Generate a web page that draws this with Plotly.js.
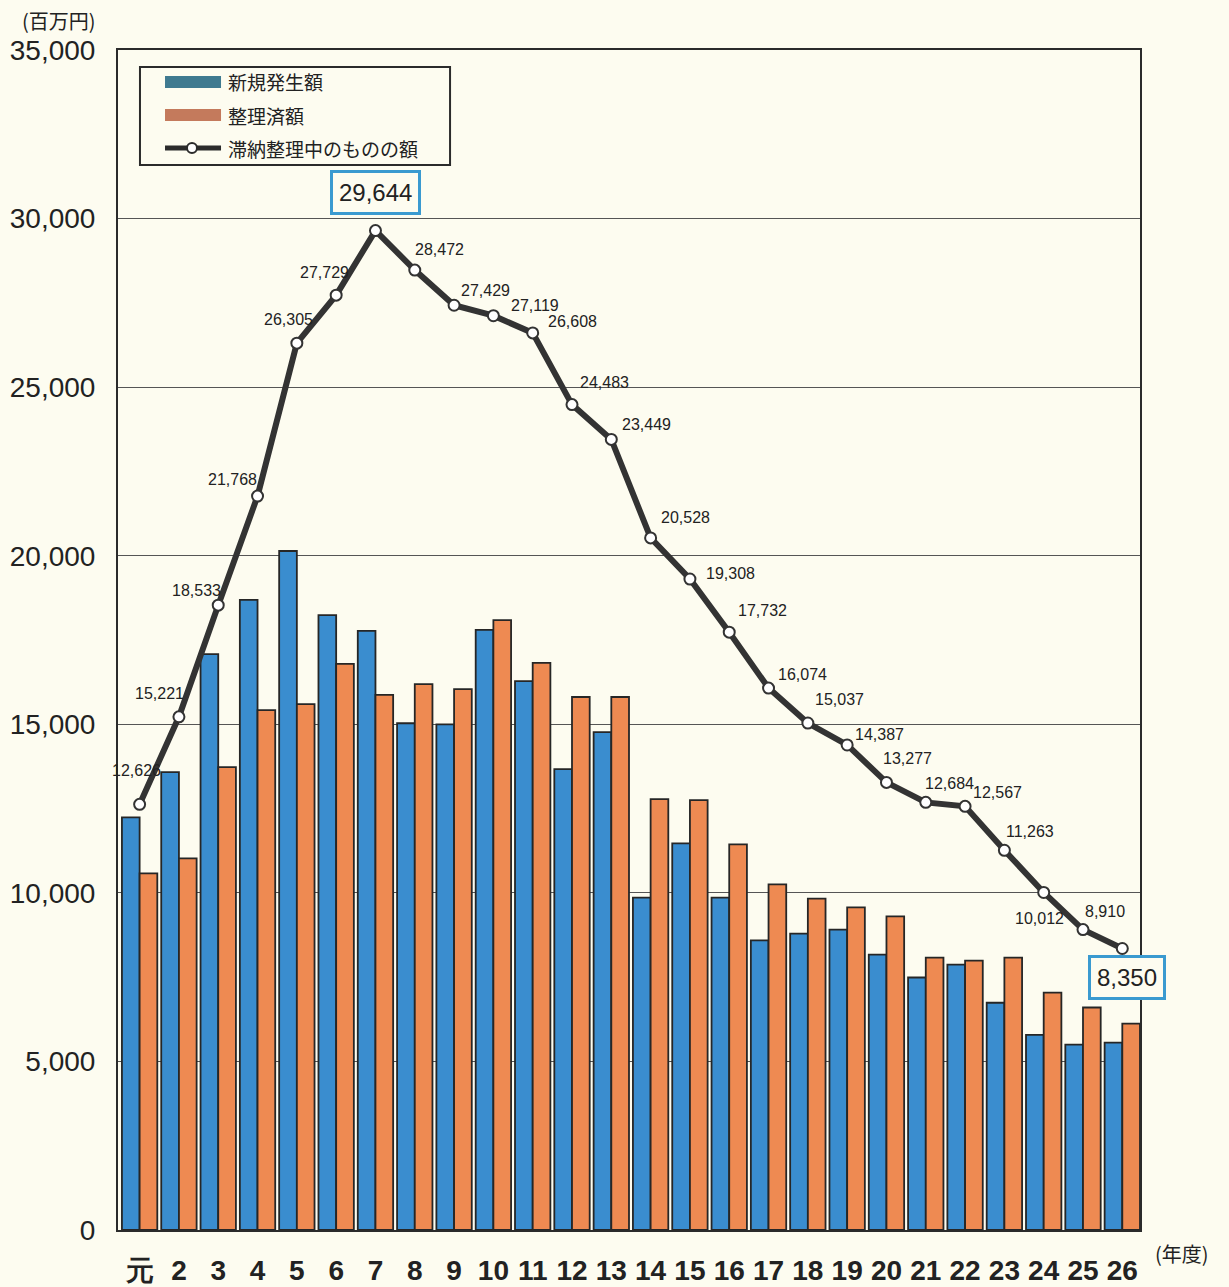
<!DOCTYPE html>
<html>
<head>
<meta charset="utf-8">
<script src="https://cdn.plot.ly/plotly-3.0.1.min.js"></script>
<style>
html,body{margin:0;padding:0;background:#fdfcf0;}
#chart{width:1229px;height:1287px;}
</style>
</head>
<body>
<div id="chart"></div>
<script>
// ---- data ----
const categories = ["元","2","3","4","5","6","7","8","9","10","11","12","13","14","15","16","17","18","19","20","21","22","23","24","25","26"];
const newAmount = [12240,13580,17080,18690,20140,18240,17770,15030,15000,17800,16280,13670,14770,9860,11470,9860,8590,8790,8910,8170,7490,7870,6740,5790,5500,5560];
const settledAmount = [10580,11020,13730,15420,15600,16790,15870,16190,16040,18090,16820,15810,15810,12780,12750,11440,10250,9830,9570,9300,8080,7990,8080,7040,6600,6120];
const pendingAmount = [12626,15221,18533,21768,26305,27729,29644,28472,27429,27119,26608,24483,23449,20528,19308,17732,16074,15037,14387,13277,12684,12567,11263,10012,8910,8350];
const pendingLabels = ["12,626","15,221","18,533","21,768","26,305","27,729","29,644","28,472","27,429","27,119","26,608","24,483","23,449","20,528","19,308","17,732","16,074","15,037","14,387","13,277","12,684","12,567","11,263","10,012","8,910","8,350"];
const seriesNames = ["新規発生額","整理済額","滞納整理中のものの額"];
const yTickVals = [0,5000,10000,15000,20000,25000,30000,35000];
const yTickText = ["0","5,000","10,000","15,000","20,000","25,000","30,000","35,000"];

// label offsets in pixels (dx, dy) relative to each point
const labelShift = [[-3,34],[-19,23],[-22,15],[-25,17],[-8,24],[-12,23],[0,38],[25,21],[31,15],[42,10],[40,11],[32,22],[35,15],[35,20],[41,6],[33,22],[34,14],[32,24],[32,10],[21,24],[24,19],[32,14],[26,19],[-4,-26],[22,18],[5,-29]];
const boxed = {6:true, 25:true};

const narrow = "Liberation Sans Narrow, Arial Narrow, Liberation Sans, Arial, sans-serif";
const cjk = "Noto Sans CJK JP, Noto Sans, sans-serif";

const traces = [
  {type:"bar", name:seriesNames[0], x:categories, y:newAmount,
   marker:{color:"#3a8dcf", line:{color:"#262626", width:1.8}}, showlegend:false},
  {type:"bar", name:seriesNames[1], x:categories, y:settledAmount,
   marker:{color:"#ee8a52", line:{color:"#262626", width:1.8}}, showlegend:false},
  {type:"scatter", mode:"lines+markers", name:seriesNames[2], x:categories, y:pendingAmount,
   line:{color:"#333333", width:6},
   marker:{symbol:"circle", size:11, color:"#ffffff", line:{color:"#333333", width:2}},
   showlegend:false}
];

const annotations = [];
for (let i = 0; i < categories.length; i++) {
  const b = !!boxed[i];
  annotations.push({
    x: i, y: pendingAmount[i], xref:"x", yref:"y",
    xanchor:"center", yanchor:"middle",
    text: pendingLabels[i], showarrow:false,
    xshift: labelShift[i][0], yshift: labelShift[i][1],
    font: b ? {family:"Liberation Sans, Arial, sans-serif", size:24, color:"#222"} :
              {family:narrow, size:16, color:"#222"},
    bordercolor: b ? "#3a9ad0" : undefined,
    borderwidth: b ? 3 : 0,
    borderpad: b ? 6 : 0,
    bgcolor: b ? "#fdfcf0" : undefined
  });
}
// axis unit labels
annotations.push({xref:"paper", yref:"paper", x:-0.058, y:1.0254, xanchor:"center", yanchor:"middle",
  text:"(百万円)", showarrow:false, font:{family:cjk, size:20, color:"#222"}});
annotations.push({xref:"paper", yref:"paper", x:1.041, y:-0.0195, xanchor:"center", yanchor:"middle",
  text:"(年度)", showarrow:false, font:{family:cjk, size:20, color:"#222"}});
// legend texts
const legY = [0.9729, 0.9449, 0.9169];
for (let k = 0; k < 3; k++) {
  annotations.push({xref:"paper", yref:"paper", x:0.1057, y:legY[k], xanchor:"left", yanchor:"middle",
    text:seriesNames[k], showarrow:false, font:{family:cjk, size:19, color:"#222"}});
}

const shapes = [
  {type:"rect", xref:"paper", yref:"paper", x0:0.0215, x1:0.3249, y0:0.9025, y1:0.9856,
   line:{color:"#2b2b2b", width:2}, fillcolor:"#fdfcf0", layer:"above"},
  {type:"rect", xref:"paper", yref:"paper", x0:0.046, x1:0.1008, y0:0.9678, y1:0.978,
   line:{width:0}, fillcolor:"#3f7a90", layer:"above"},
  {type:"rect", xref:"paper", yref:"paper", x0:0.046, x1:0.1008, y0:0.9398, y1:0.950,
   line:{width:0}, fillcolor:"#c47a5c", layer:"above"},
  {type:"line", xref:"paper", yref:"paper", x0:0.046, x1:0.1008, y0:0.9169, y1:0.9169,
   line:{color:"#2b2b2b", width:5}, layer:"above"},
  {type:"circle", xref:"paper", yref:"paper", x0:0.0675, x1:0.0773, y0:0.9127, y1:0.9212,
   line:{color:"#2b2b2b", width:2}, fillcolor:"#ffffff", layer:"above"}
];

const layout = {
  width:1229, height:1287,
  margin:{l:118, r:89, t:50, b:57},
  paper_bgcolor:"#fdfcf0", plot_bgcolor:"#fdfcf0",
  barmode:"group", bargap:0.1, bargroupgap:0,
  showlegend:false,
  xaxis:{type:"category", categoryorder:"array", categoryarray:categories,
    range:[-0.55, 25.45], autorange:false,
    showline:true, mirror:true, linecolor:"#2b2b2b", linewidth:2,
    showgrid:false, ticks:"", ticklabelstandoff:14,
    tickfont:{family:narrow, size:28, color:"#222", weight:"bold"}},
  yaxis:{range:[0,35000], autorange:false, tickvals:yTickVals, ticktext:yTickText,
    showline:true, mirror:true, linecolor:"#2b2b2b", linewidth:2,
    showgrid:true, gridcolor:"#555555", gridwidth:1, zeroline:false,
    ticks:"", ticklabelstandoff:15,
    tickfont:{family:narrow, size:28, color:"#222"}},
  annotations:annotations,
  shapes:shapes
};

Plotly.newPlot("chart", traces, layout, {displayModeBar:false, staticPlot:true});
</script>
</body>
</html>
